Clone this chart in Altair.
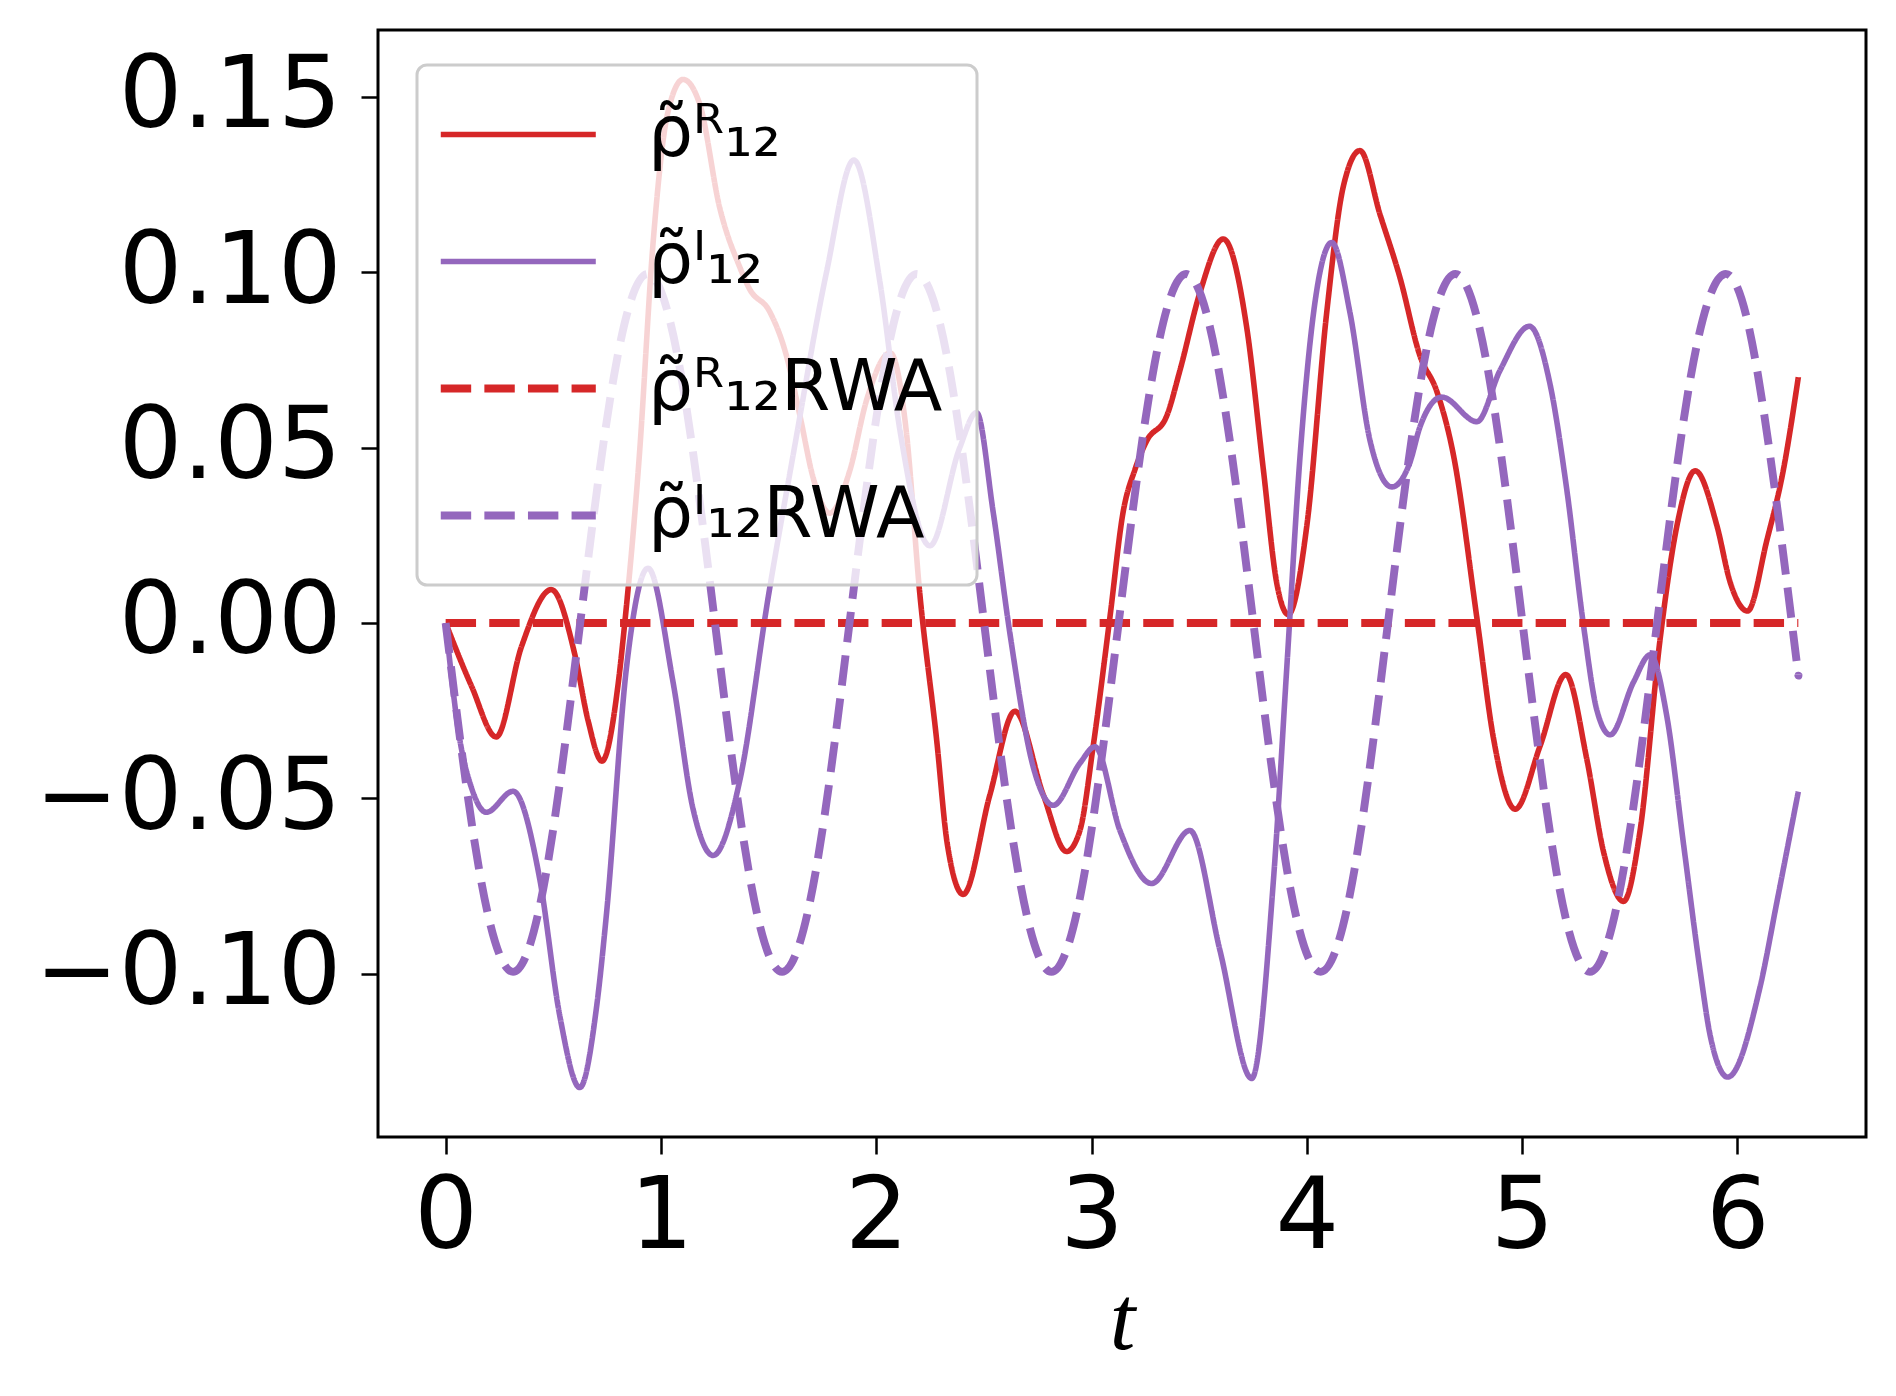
import altair as alt
import pandas as pd

# --- series ---
red_t = [0.00, 0.12, 0.235, 0.352, 0.491, 0.60, 0.661, 0.726, 0.80, 0.832, 0.90, 0.963, 1.03, 1.103,
         1.18, 1.273, 1.366, 1.412, 1.505, 1.583, 1.645, 1.707, 1.784, 1.877, 1.955, 2.065, 2.139,
         2.202, 2.28, 2.33, 2.404, 2.528, 2.644, 2.776, 2.884, 2.946, 3.008, 3.085, 3.147, 3.202,
         3.256, 3.349, 3.411, 3.504, 3.612, 3.721, 3.798, 3.860, 3.914, 4.0, 4.092, 4.170, 4.247,
         4.340, 4.433, 4.526, 4.604, 4.681, 4.790, 4.867, 4.968, 5.084, 5.203, 5.301, 5.378, 5.471,
         5.548, 5.641, 5.719, 5.804, 5.905, 5.967, 6.047, 6.137, 6.214, 6.283]
red_v = [0.000, -0.018, -0.0325, -0.0068, 0.0095, -0.009, -0.0277, -0.0394, -0.018, 0.000, 0.048,
         0.108, 0.145, 0.155, 0.148, 0.1184, 0.1015, 0.0952, 0.0888, 0.0762, 0.0593, 0.0414, 0.0313,
         0.0434, 0.0635, 0.077, 0.055, 0.0086, -0.033, -0.063, -0.0774, -0.049, -0.0252, -0.049,
         -0.0652, -0.0592, -0.035, 0.0014, 0.0317, 0.0438, 0.0519, 0.059, 0.0721, 0.0943, 0.1095,
         0.0842, 0.0438, 0.0115, 0.0024, 0.0277, 0.0883, 0.1246, 0.1347, 0.1165, 0.0984, 0.0761,
         0.066, 0.0479, 0.0014, -0.0329, -0.0531, -0.035, -0.0147, -0.039, -0.0652, -0.0794,
         -0.0592, -0.0046, 0.0277, 0.0434, 0.0277, 0.0115, 0.0034, 0.0236, 0.0438, 0.0701]

pur_t = [0.00, 0.065, 0.12, 0.189, 0.313, 0.437, 0.53, 0.623, 0.70, 0.747, 0.84, 0.94, 1.056, 1.149,
         1.242, 1.366, 1.50, 1.614, 1.769, 1.896, 2.017, 2.11, 2.249, 2.388, 2.466, 2.543, 2.62,
         2.729, 2.822, 2.946, 3.016, 3.132, 3.279, 3.457, 3.597, 3.744, 3.845, 3.907, 3.969, 4.031,
         4.116, 4.201, 4.294, 4.395, 4.479, 4.526, 4.627, 4.790, 4.898, 5.034, 5.130, 5.208, 5.285,
         5.347, 5.409, 5.518, 5.595, 5.673, 5.750, 5.828, 5.874, 5.955, 6.106, 6.184, 6.283]
pur_v = [0.000, -0.033, -0.047, -0.054, -0.048, -0.073, -0.112, -0.1325, -0.110, -0.083, -0.0127,
         0.0156, -0.0168, -0.053, -0.0663, -0.045, 0.008, 0.0479, 0.100, 0.132, 0.0973, 0.055,
         0.022, 0.050, 0.060, 0.0317, -0.0026, -0.041, -0.052, -0.040, -0.0353, -0.0592, -0.0743,
         -0.0592, -0.0935, -0.1299, -0.0733, -0.0127, 0.0479, 0.0883, 0.1085, 0.0883, 0.0519,
         0.0388, 0.0458, 0.056, 0.0644, 0.0574, 0.0721, 0.0846, 0.068, 0.0378, -0.0006, -0.0248,
         -0.0319, -0.0168, -0.0091, -0.0269, -0.0632, -0.0996, -0.1178, -0.1295, -0.1036, -0.0794,
         -0.0481]

rwa_r_t = [0.0, 6.283]
rwa_r_v = [0.0, 0.0]

rwa_i_t = [0.000, 0.156, 0.313, 0.469, 0.625, 0.782, 0.938, 1.094, 1.251, 1.407, 1.563, 1.720,
           1.876, 2.032, 2.188, 2.345, 2.501, 2.658, 2.814, 2.970, 3.126, 3.283, 3.439, 3.595,
           3.752, 3.908, 4.064, 4.221, 4.377, 4.533, 4.690, 4.846, 5.002, 5.158, 5.315, 5.471,
           5.627, 5.784, 5.940, 6.096, 6.253, 6.283]
rwa_i_v = [0.0, -0.0705, -0.0995, -0.0705, 0.0, 0.0705, 0.0995, 0.0705,
           0.0, -0.0705, -0.0995, -0.0705, 0.0, 0.0705, 0.0995, 0.0705,
           0.0, -0.0705, -0.0995, -0.0705, 0.0, 0.0705, 0.0995, 0.0705,
           0.0, -0.0705, -0.0995, -0.0705, 0.0, 0.0705, 0.0995, 0.0705,
           0.0, -0.0705, -0.0995, -0.0705, 0.0, 0.0705, 0.0995, 0.0705,
           0.0, -0.0147]

names = ["ρ̃ᴿ₁₂", "ρ̃ᴵ₁₂", "ρ̃ᴿ₁₂RWA", "ρ̃ᴵ₁₂RWA"]
x_ticks = [0, 1, 2, 3, 4, 5, 6]
y_ticks = [-0.10, -0.05, 0.00, 0.05, 0.10, 0.15]

RED = "#d62728"
PURPLE = "#9467bd"
SOLID_W = 5.6
DASH_W = 7.9

def frame(ts, vs, name):
    return pd.DataFrame({"t": ts, "v": vs, "series": name})

solid = pd.concat([frame(red_t, red_v, names[0]), frame(pur_t, pur_v, names[1])])
dashed = pd.concat([frame(rwa_r_t, rwa_r_v, names[2]), frame(rwa_i_t, rwa_i_v, names[3])])

x_enc = alt.X("t:Q", scale=alt.Scale(domain=[-0.3142, 6.5973], nice=False, zero=False),
              axis=alt.Axis(values=x_ticks, format="d", title="t"))
y_enc = alt.Y("v:Q", scale=alt.Scale(domain=[-0.1466, 0.1691], nice=False, zero=False),
              axis=alt.Axis(values=y_ticks, format=".2f", title=""))

legend = alt.Legend(
    orient="none", legendX=39, legendY=35,
    symbolType="M-2.36,0H5.64", symbolSize=1502,
    symbolStrokeWidth={"expr": f"datum.index < 2 ? {SOLID_W} : {DASH_W}"},
    labelFontSize=71, labelFont="DejaVu Sans", labelColor="black", labelOffset=126,
    rowPadding=55, padding=34, fillColor="rgba(255,255,255,0.8)", strokeColor="#cccccc",
    cornerRadius=10, labelLimit=0, title=None,
)

color_enc = alt.Color("series:N", scale=alt.Scale(domain=names, range=[RED, PURPLE, RED, PURPLE]),
                      legend=legend)
dash_enc = alt.StrokeDash("series:N", scale=alt.Scale(domain=names,
                          range=[[1, 0], [1, 0], [30.4, 13.2], [30.4, 13.2]]), legend=legend)

base_enc = dict(x=x_enc, y=y_enc, color=color_enc, strokeDash=dash_enc, order=alt.Order("t:Q"))

solid_layer = alt.Chart(solid).mark_line(interpolate="monotone", strokeWidth=SOLID_W).encode(**base_enc)
dashed_layer = alt.Chart(dashed).mark_line(interpolate="natural", strokeWidth=DASH_W).encode(**base_enc)

chart = alt.layer(solid_layer, dashed_layer).properties(
    width=1488, height=1107,
    autosize=alt.AutoSizeParams(type="none"),
    padding={"left": 370, "top": 22, "right": 20, "bottom": 250},
).configure_view(
    stroke="black", strokeWidth=3
).configure_axis(
    domain=False, grid=False, tickColor="black", tickWidth=2.5, tickSize=17,
    labelFont="DejaVu Sans", labelFontSize=100, labelColor="black", labelLimit=0,
).configure_axisX(
    labelPadding=14, titleFont="Liberation Serif", titleFontStyle="italic",
    titleFontWeight="normal", titleFontSize=92, titleColor="black", titleY=211,
    titleBaseline="alphabetic",
).configure_axisY(
    labelPadding=20,
).configure_legend(
    strokeWidth=3
)

chart.save("out.html", embed_options={"renderer": "svg", "actions": False})
